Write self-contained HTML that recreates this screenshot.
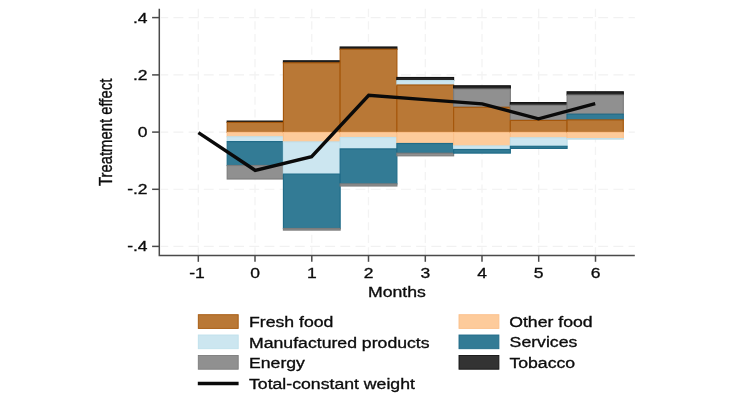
<!DOCTYPE html>
<html><head><meta charset="utf-8"><title>chart</title>
<style>html,body{margin:0;padding:0;background:#fff}svg{display:block;will-change:transform;filter:blur(0.4px)}text{font-family:"Liberation Sans",sans-serif;fill:#0c0c0c;stroke:#0c0c0c;stroke-width:0.3px}</style></head><body>
<svg width="730" height="410" viewBox="0 0 730 410">
<rect width="730" height="410" fill="#fff"/>
<g stroke="#F1F1F1" stroke-width="1.1" fill="none">
<line x1="160.8" y1="17.6" x2="634.8" y2="17.6" stroke-dasharray="9.9 5.27" stroke-dashoffset="2.5"/>
<line x1="160.8" y1="74.9" x2="634.8" y2="74.9" stroke-dasharray="9.9 5.27" stroke-dashoffset="2.5"/>
<line x1="160.8" y1="132.1" x2="634.8" y2="132.1" stroke-dasharray="9.9 5.27" stroke-dashoffset="2.5"/>
<line x1="160.8" y1="189.3" x2="634.8" y2="189.3" stroke-dasharray="9.9 5.27" stroke-dashoffset="2.5"/>
<line x1="160.8" y1="246.4" x2="634.8" y2="246.4" stroke-dasharray="9.9 5.27" stroke-dashoffset="2.5"/>
<line x1="198.3" y1="8.8" x2="198.3" y2="255.6" stroke-dasharray="8.2 4.35" stroke-width="1.3" stroke="#F3F3F3"/>
<line x1="255.0" y1="8.8" x2="255.0" y2="255.6" stroke-dasharray="8.2 4.35" stroke-width="1.3" stroke="#F3F3F3"/>
<line x1="311.8" y1="8.8" x2="311.8" y2="255.6" stroke-dasharray="8.2 4.35" stroke-width="1.3" stroke="#F3F3F3"/>
<line x1="368.5" y1="8.8" x2="368.5" y2="255.6" stroke-dasharray="8.2 4.35" stroke-width="1.3" stroke="#F3F3F3"/>
<line x1="425.3" y1="8.8" x2="425.3" y2="255.6" stroke-dasharray="8.2 4.35" stroke-width="1.3" stroke="#F3F3F3"/>
<line x1="482.0" y1="8.8" x2="482.0" y2="255.6" stroke-dasharray="8.2 4.35" stroke-width="1.3" stroke="#F3F3F3"/>
<line x1="538.7" y1="8.8" x2="538.7" y2="255.6" stroke-dasharray="8.2 4.35" stroke-width="1.3" stroke="#F3F3F3"/>
<line x1="595.5" y1="8.8" x2="595.5" y2="255.6" stroke-dasharray="8.2 4.35" stroke-width="1.3" stroke="#F3F3F3"/>
</g>
<g stroke-width="1.15">
<rect x="227.20" y="121.10000000000001" width="56.23" height="1.30" fill="#262626" stroke="#111111"/>
<rect x="227.20" y="122.4" width="56.23" height="10.00" fill="#B97836" stroke="#A5570B"/>
<rect x="227.20" y="132.4" width="56.23" height="4.40" fill="#FDCB9B" stroke="#FBC08A"/>
<rect x="227.20" y="136.8" width="56.23" height="4.80" fill="#CCE6F0" stroke="#BFE0EC"/>
<rect x="227.20" y="141.6" width="56.23" height="23.90" fill="#337B95" stroke="#1F6B88"/>
<rect x="227.20" y="165.5" width="56.23" height="13.50" fill="#909090" stroke="#7C7C7C"/>
<rect x="283.43" y="60.8" width="56.73" height="2.00" fill="#262626" stroke="#111111"/>
<rect x="283.43" y="62.8" width="56.73" height="69.60" fill="#B97836" stroke="#A5570B"/>
<rect x="283.43" y="132.4" width="56.73" height="9.50" fill="#FDCB9B" stroke="#FBC08A"/>
<rect x="283.43" y="141.9" width="56.73" height="32.20" fill="#CCE6F0" stroke="#BFE0EC"/>
<rect x="283.43" y="174.1" width="56.73" height="54.40" fill="#337B95" stroke="#1F6B88"/>
<rect x="283.43" y="228.5" width="56.73" height="1.60" fill="#909090" stroke="#7C7C7C"/>
<rect x="340.16" y="47.0" width="56.73" height="2.20" fill="#262626" stroke="#111111"/>
<rect x="340.16" y="49.199999999999996" width="56.73" height="83.20" fill="#B97836" stroke="#A5570B"/>
<rect x="340.16" y="132.4" width="56.73" height="5.10" fill="#FDCB9B" stroke="#FBC08A"/>
<rect x="340.16" y="137.5" width="56.73" height="11.40" fill="#CCE6F0" stroke="#BFE0EC"/>
<rect x="340.16" y="148.9" width="56.73" height="35.00" fill="#337B95" stroke="#1F6B88"/>
<rect x="340.16" y="183.9" width="56.73" height="2.10" fill="#909090" stroke="#7C7C7C"/>
<rect x="396.89" y="77.5" width="56.73" height="3.10" fill="#262626" stroke="#111111"/>
<rect x="396.89" y="80.60000000000001" width="56.73" height="4.40" fill="#CCE6F0" stroke="#BFE0EC"/>
<rect x="396.89" y="85.0" width="56.73" height="47.40" fill="#B97836" stroke="#A5570B"/>
<rect x="396.89" y="132.4" width="56.73" height="11.10" fill="#FDCB9B" stroke="#FBC08A"/>
<rect x="396.89" y="143.5" width="56.73" height="9.70" fill="#337B95" stroke="#1F6B88"/>
<rect x="396.89" y="153.20000000000002" width="56.73" height="2.60" fill="#909090" stroke="#7C7C7C"/>
<rect x="453.62" y="85.80000000000001" width="56.73" height="3.20" fill="#262626" stroke="#111111"/>
<rect x="453.62" y="89.0" width="56.73" height="18.30" fill="#909090" stroke="#7C7C7C"/>
<rect x="453.62" y="107.30000000000001" width="56.73" height="25.10" fill="#B97836" stroke="#A5570B"/>
<rect x="453.62" y="132.4" width="56.73" height="13.50" fill="#FDCB9B" stroke="#FBC08A"/>
<rect x="453.62" y="145.9" width="56.73" height="3.60" fill="#CCE6F0" stroke="#BFE0EC"/>
<rect x="453.62" y="149.5" width="56.73" height="3.60" fill="#337B95" stroke="#1F6B88"/>
<rect x="510.35" y="102.60000000000001" width="56.73" height="2.60" fill="#262626" stroke="#111111"/>
<rect x="510.35" y="105.2" width="56.73" height="15.20" fill="#909090" stroke="#7C7C7C"/>
<rect x="510.35" y="120.4" width="56.73" height="12.00" fill="#B97836" stroke="#A5570B"/>
<rect x="510.35" y="132.4" width="56.73" height="5.40" fill="#FDCB9B" stroke="#FBC08A"/>
<rect x="510.35" y="137.8" width="56.73" height="8.50" fill="#CCE6F0" stroke="#BFE0EC"/>
<rect x="510.35" y="146.3" width="56.73" height="2.10" fill="#337B95" stroke="#1F6B88"/>
<rect x="567.08" y="91.80000000000001" width="56.23" height="3.20" fill="#262626" stroke="#111111"/>
<rect x="567.08" y="95.0" width="56.23" height="19.20" fill="#909090" stroke="#7C7C7C"/>
<rect x="567.08" y="114.2" width="56.23" height="5.70" fill="#337B95" stroke="#1F6B88"/>
<rect x="567.08" y="119.9" width="56.23" height="12.50" fill="#B97836" stroke="#A5570B"/>
<rect x="567.08" y="132.4" width="56.23" height="6.20" fill="#FDCB9B" stroke="#FBC08A"/>
<rect x="567.08" y="138.6" width="56.23" height="0.50" fill="#CCE6F0" stroke="#BFE0EC"/>
</g>
<g stroke="#4A4A4A" stroke-width="1.5" fill="none">
<path d="M159.3 8.8V255.6H634.8"/>
<line x1="152.10000000000002" y1="17.6" x2="159.3" y2="17.6"/>
<line x1="152.10000000000002" y1="74.9" x2="159.3" y2="74.9"/>
<line x1="152.10000000000002" y1="132.1" x2="159.3" y2="132.1"/>
<line x1="152.10000000000002" y1="189.3" x2="159.3" y2="189.3"/>
<line x1="152.10000000000002" y1="246.4" x2="159.3" y2="246.4"/>
<line x1="198.3" y1="255.6" x2="198.3" y2="261.8"/>
<line x1="255.0" y1="255.6" x2="255.0" y2="261.8"/>
<line x1="311.8" y1="255.6" x2="311.8" y2="261.8"/>
<line x1="368.5" y1="255.6" x2="368.5" y2="261.8"/>
<line x1="425.3" y1="255.6" x2="425.3" y2="261.8"/>
<line x1="482.0" y1="255.6" x2="482.0" y2="261.8"/>
<line x1="538.7" y1="255.6" x2="538.7" y2="261.8"/>
<line x1="595.5" y1="255.6" x2="595.5" y2="261.8"/>
</g>
<polyline points="198.4,132.6 255.2,170.3 311.6,156.7 368.7,95.3 425.3,99.6 482.2,103.9 538.5,118.8 595.2,103.7" fill="none" stroke="#0a0a0a" stroke-width="3.4" stroke-linejoin="miter" stroke-linecap="butt"/>
<text transform="translate(147.6 22.5) scale(1.215 1)" font-size="14.4" text-anchor="end">.4</text>
<text transform="translate(147.6 79.8) scale(1.215 1)" font-size="14.4" text-anchor="end">.2</text>
<text transform="translate(147.6 137.0) scale(1.215 1)" font-size="14.4" text-anchor="end">0</text>
<text transform="translate(147.6 194.2) scale(1.215 1)" font-size="14.4" text-anchor="end">-.2</text>
<text transform="translate(147.6 251.3) scale(1.215 1)" font-size="14.4" text-anchor="end">-.4</text>
<text transform="translate(197.0 278.4) scale(1.215 1)" font-size="14.4" text-anchor="middle">-1</text>
<text transform="translate(255.0 278.4) scale(1.215 1)" font-size="14.4" text-anchor="middle">0</text>
<text transform="translate(311.8 278.4) scale(1.215 1)" font-size="14.4" text-anchor="middle">1</text>
<text transform="translate(368.5 278.4) scale(1.215 1)" font-size="14.4" text-anchor="middle">2</text>
<text transform="translate(425.3 278.4) scale(1.215 1)" font-size="14.4" text-anchor="middle">3</text>
<text transform="translate(482.0 278.4) scale(1.215 1)" font-size="14.4" text-anchor="middle">4</text>
<text transform="translate(538.7 278.4) scale(1.215 1)" font-size="14.4" text-anchor="middle">5</text>
<text transform="translate(595.5 278.4) scale(1.215 1)" font-size="14.4" text-anchor="middle">6</text>
<text transform="translate(396.9 296.8) scale(1.28 1)" font-size="13.8" text-anchor="middle">Months</text>
<text transform="translate(111.7 132.4) rotate(-90) scale(1 1.19)" font-size="14.86" text-anchor="middle">Treatment effect</text>
<rect x="198.3" y="314.7" width="39.9" height="13.7" fill="#B97836" stroke="#A5570B" stroke-width="0.9"/>
<text transform="translate(249.0 326.7) scale(1.28 1)" font-size="13.8" text-anchor="start">Fresh food</text>
<rect x="198.3" y="335.0" width="39.9" height="13.7" fill="#CCE6F0" stroke="#BFE0EC" stroke-width="0.9"/>
<text transform="translate(249.0 347.6) scale(1.28 1)" font-size="13.8" text-anchor="start">Manufactured products</text>
<rect x="198.3" y="355.5" width="39.9" height="13.7" fill="#909090" stroke="#7C7C7C" stroke-width="0.9"/>
<text transform="translate(249.0 368.4) scale(1.28 1)" font-size="13.8" text-anchor="start">Energy</text>
<line x1="197.8" y1="383.5" x2="238.6" y2="383.5" stroke="#0a0a0a" stroke-width="3.3"/>
<text transform="translate(249.0 388.8) scale(1.28 1)" font-size="13.8" text-anchor="start">Total-constant weight</text>
<rect x="459.0" y="314.7" width="39.9" height="13.7" fill="#FDCB9B" stroke="#FBC08A" stroke-width="0.9"/>
<text transform="translate(509.2 326.7) scale(1.28 1)" font-size="13.8" text-anchor="start">Other food</text>
<rect x="459.0" y="335.0" width="39.9" height="13.7" fill="#337B95" stroke="#1F6B88" stroke-width="0.9"/>
<text transform="translate(509.6 347.4) scale(1.28 1)" font-size="13.8" text-anchor="start">Services</text>
<rect x="459.0" y="355.5" width="39.9" height="13.7" fill="#333333" stroke="#111111" stroke-width="0.9"/>
<text transform="translate(509.4 368.3) scale(1.28 1)" font-size="13.8" text-anchor="start">Tobacco</text>
</svg></body></html>
